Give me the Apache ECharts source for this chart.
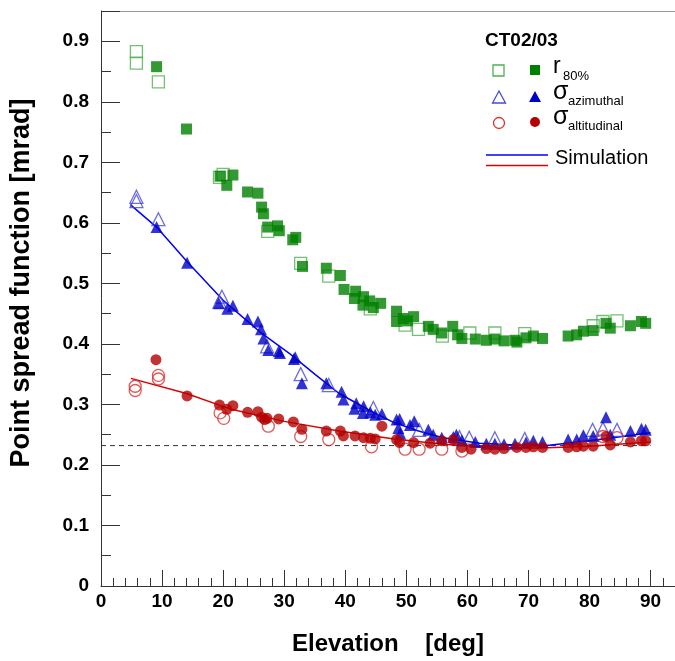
<!DOCTYPE html>
<html><head><meta charset="utf-8">
<script src="https://cdn.jsdelivr.net/npm/echarts@6/dist/echarts.min.js"></script>
<style>html,body{margin:0;padding:0;background:#fff}#c{width:675px;height:661px}</style>
</head><body><div id="c"></div>
<script>
const FONT = '"Liberation Sans", Arial, Helvetica, sans-serif';
const xTicks = [0,10,20,30,40,50,60,70,80,90];
const yTicks = [0,0.1,0.2,0.3,0.4,0.5,0.6,0.7,0.8,0.9];
const refLevel = 0.232;

const r80Filled = [[9.1,0.858],[14.0,0.755],[19.5,0.677],[20.6,0.662],[21.6,0.679],[24.0,0.651],[25.7,0.649],[26.3,0.626],[26.6,0.615],[27.3,0.593],[28.9,0.595],[29.2,0.587],[31.4,0.572],[31.9,0.576],[33.0,0.528],[36.9,0.525],[39.2,0.513],[39.8,0.490],[41.7,0.487],[41.5,0.475],[43.0,0.478],[42.9,0.464],[44.0,0.471],[44.6,0.460],[45.8,0.467],[48.4,0.454],[48.4,0.437],[49.5,0.442],[50.2,0.438],[51.2,0.445],[53.6,0.429],[54.4,0.424],[55.8,0.418],[57.6,0.429],[58.4,0.415],[59.1,0.409],[61.3,0.408],[63.1,0.406],[64.5,0.408],[66.0,0.405],[67.8,0.406],[68.1,0.403],[69.6,0.410],[70.8,0.413],[72.3,0.409],[76.5,0.413],[77.9,0.415],[79.0,0.421],[80.6,0.422],[82.7,0.434],[83.4,0.426],[86.7,0.430],[88.5,0.437],[89.2,0.434]];
const r80Open = [[5.8,0.883],[5.8,0.864],[9.4,0.833],[19.4,0.675],[20.0,0.680],[27.3,0.586],[32.7,0.533],[37.3,0.512],[44.1,0.458],[49.8,0.431],[52.0,0.424],[55.9,0.413],[60.4,0.418],[64.5,0.418],[69.4,0.417],[80.6,0.430],[82.2,0.437],[84.5,0.438]];
const azFilled = [[9.1,0.593],[14.1,0.534],[19.3,0.467],[20.7,0.458],[21.6,0.463],[24.0,0.441],[25.7,0.437],[26.2,0.424],[26.6,0.409],[27.4,0.390],[29.1,0.388],[29.3,0.385],[31.6,0.375],[31.8,0.378],[32.9,0.335],[36.9,0.335],[39.4,0.321],[39.7,0.308],[41.8,0.302],[41.5,0.293],[43.0,0.297],[42.9,0.286],[44.1,0.287],[44.9,0.283],[46.0,0.284],[48.4,0.275],[48.9,0.276],[48.7,0.261],[49.0,0.252],[50.6,0.266],[51.3,0.272],[53.6,0.258],[54.4,0.250],[55.8,0.245],[57.7,0.246],[58.2,0.250],[59.1,0.241],[61.3,0.238],[63.1,0.235],[64.5,0.235],[66.0,0.234],[67.8,0.235],[69.6,0.237],[70.8,0.240],[72.3,0.238],[76.5,0.242],[77.9,0.242],[79.0,0.249],[80.6,0.248],[82.7,0.279],[83.4,0.250],[86.7,0.256],[88.5,0.260],[89.2,0.258]];
const azOpen = [[5.8,0.643],[5.8,0.636],[9.4,0.606],[19.8,0.478],[19.4,0.470],[27.2,0.396],[32.7,0.350],[37.3,0.332],[44.6,0.294],[52.1,0.258],[58.7,0.246],[60.3,0.245],[64.5,0.244],[69.4,0.243],[80.5,0.258],[82.2,0.260],[84.5,0.258]];
const altFilled = [[9.0,0.374],[14.1,0.314],[19.4,0.299],[20.6,0.292],[21.6,0.298],[24.0,0.287],[25.7,0.288],[26.3,0.279],[26.8,0.275],[27.2,0.277],[29.1,0.276],[31.5,0.271],[32.9,0.259],[36.9,0.256],[39.2,0.256],[39.7,0.248],[41.6,0.248],[43.0,0.245],[44.1,0.244],[44.9,0.243],[46.0,0.264],[48.4,0.242],[48.9,0.237],[51.2,0.237],[53.9,0.236],[55.8,0.240],[57.7,0.242],[59.1,0.229],[60.6,0.226],[63.1,0.227],[64.5,0.226],[66.0,0.227],[68.1,0.229],[69.6,0.229],[70.8,0.230],[72.3,0.229],[76.5,0.229],[77.9,0.230],[79.0,0.231],[80.6,0.231],[82.7,0.247],[83.4,0.233],[86.7,0.238],[88.5,0.240],[89.2,0.240]];
const altOpen = [[5.6,0.330],[5.6,0.323],[9.4,0.348],[9.4,0.342],[19.5,0.286],[20.1,0.277],[27.4,0.264],[32.7,0.247],[37.3,0.242],[44.3,0.230],[49.8,0.226],[52.1,0.226],[55.8,0.226],[59.1,0.223],[82.2,0.247],[84.5,0.245]];
const simAz = [[4.8,0.630],[9.1,0.593],[14,0.537],[20,0.472],[26,0.420],[31,0.383],[35,0.350],[39,0.318],[44,0.290],[48,0.270],[52,0.256],[56,0.245],[62,0.236],[68,0.233],[73,0.232],[80,0.240],[86,0.248],[90,0.253]];
const simAlt = [[4.9,0.343],[14,0.318],[21,0.293],[30,0.272],[39,0.256],[48,0.243],[56,0.234],[64,0.229],[72,0.228],[80,0.231],[90,0.238]];
const refLine = [[0,refLevel],[90,refLevel]];

const GREEN='#008000', GREEN_O='#4fb04f', BLUE='#0000c8', BLUE_O='#4848d8', RED='#b40000', RED_O='#d83030';

function openSeries(data, sym, size, color){
  return {type:'scatter', data, symbol:sym, symbolSize:size, z:3,
    itemStyle:{color:'rgba(0,0,0,0)', borderColor:color, borderWidth:1.3}};
}
function filledSeries(data, sym, size, color){
  return {type:'scatter', data, symbol:sym, symbolSize:size, z:4, itemStyle:{color}};
}

const chart = echarts.init(document.getElementById('c'), null, {renderer:'canvas'});
const legendTextStyle = {fontFamily:FONT, fill:'#000'};
chart.setOption({
  animation:false,
  backgroundColor:'#fff',
  grid:{left:101, top:11, width:574, height:585, show:false},
  xAxis:{type:'value', min:0, max:94, interval:10,
    name:'Elevation    [deg]', nameLocation:'middle', nameGap:46,
    nameTextStyle:{fontFamily:FONT, fontWeight:'bold', fontSize:24, color:'#000'},
    axisLine:{show:true, lineStyle:{color:'#333', width:1}},
    axisTick:{show:true, inside:true, length:16, lineStyle:{color:'#333'}},
    minorTick:{show:true, splitNumber:5, length:8, lineStyle:{color:'#333'}},
    splitLine:{show:false},
    axisLabel:{fontFamily:FONT, fontWeight:'bold', fontSize:19, color:'#000', margin:6, showMaxLabel:false,
      formatter:v=> xTicks.includes(v)? String(v):''}},
  yAxis:{type:'value', min:0, max:0.95, interval:0.1,
    axisLine:{show:true, lineStyle:{color:'#333', width:1}},
    axisTick:{show:true, inside:true, length:19, lineStyle:{color:'#333'}},
    minorTick:{show:true, splitNumber:2, length:10, lineStyle:{color:'#333'}},
    splitLine:{show:false},
    axisLabel:{fontFamily:FONT, fontWeight:'bold', fontSize:19, color:'#000', margin:12, showMaxLabel:false,
      formatter:v=>{ const t=yTicks.find(a=>Math.abs(a-v)<1e-6); return t===undefined?'':(t===0?'0':t.toFixed(1)); }}},
  series:[
    {type:'line', data:refLine, symbol:'none', z:1, lineStyle:{color:'#333', width:1, type:[5,4]}},
    {type:'line', data:simAz, symbol:'none', z:2, lineStyle:{color:'#0000ff', width:1.5}},
    {type:'line', data:simAlt, symbol:'none', z:2, lineStyle:{color:'#dd0000', width:1.5}},
    openSeries(r80Open,'rect',12,GREEN_O),
    openSeries(azOpen,'triangle',13,BLUE_O),
    openSeries(altOpen,'circle',12,RED_O),
    filledSeries(r80Filled,'rect',11,GREEN),
    filledSeries(azFilled,'triangle',12,BLUE),
    filledSeries(altFilled,'circle',11,RED)
  ],
  graphic:[
    {type:'line', shape:{x1:101, y1:11.5, x2:675, y2:11.5}, style:{stroke:'#999', lineWidth:1}},
    {type:'text', x:22, y:283, rotation:Math.PI/2,
      style:{text:'Point spread function [mrad]', fontFamily:FONT, fontWeight:'bold', fontSize:27, fill:'#000', align:'center', verticalAlign:'middle'}},
    {type:'text', left:485, top:31, style:Object.assign({text:'CT02/03', fontSize:19, fontWeight:'bold'}, legendTextStyle)},
    {type:'rect', shape:{x:493, y:65, width:11, height:11}, style:{fill:'none', stroke:GREEN_O, lineWidth:1.3}},
    {type:'rect', shape:{x:530, y:65, width:10, height:10}, style:{fill:GREEN}},
    {type:'text', left:553, top:55, style:Object.assign({text:'r', fontSize:23}, legendTextStyle)},
    {type:'text', left:563, top:70, style:Object.assign({text:'80%', fontSize:13}, legendTextStyle)},
    {type:'polygon', shape:{points:[[499,91],[505.5,103],[492.5,103]]}, style:{fill:'none', stroke:BLUE_O, lineWidth:1.3}},
    {type:'polygon', shape:{points:[[535,91],[541,102],[529,102]]}, style:{fill:BLUE}},
    {type:'text', left:553, top:80, style:Object.assign({text:'σ', fontSize:25}, legendTextStyle)},
    {type:'text', left:568, top:95, style:Object.assign({text:'azimuthal', fontSize:13}, legendTextStyle)},
    {type:'circle', shape:{cx:499, cy:123, r:5.5}, style:{fill:'none', stroke:RED_O, lineWidth:1.3}},
    {type:'circle', shape:{cx:535, cy:122, r:5}, style:{fill:RED}},
    {type:'text', left:553, top:105, style:Object.assign({text:'σ', fontSize:25}, legendTextStyle)},
    {type:'text', left:568, top:120, style:Object.assign({text:'altitudinal', fontSize:13}, legendTextStyle)},
    {type:'line', shape:{x1:486, y1:155, x2:548, y2:155}, style:{stroke:'#0000ff', lineWidth:1.5}},
    {type:'line', shape:{x1:486, y1:165.5, x2:548, y2:165.5}, style:{stroke:'#dd0000', lineWidth:1.5}},
    {type:'text', left:555, top:148, style:Object.assign({text:'Simulation', fontSize:20}, legendTextStyle)}
  ]
});
</script></body></html>
